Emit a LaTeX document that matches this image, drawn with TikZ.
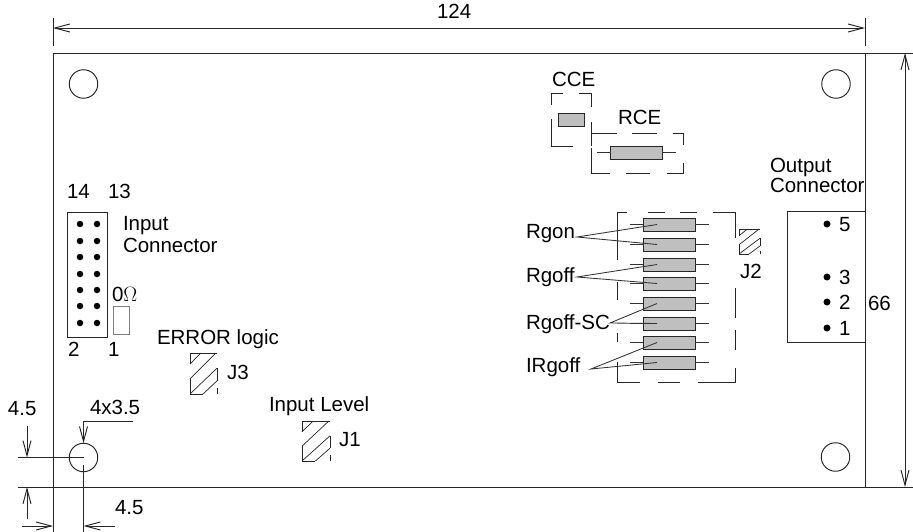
\documentclass[tikz,border=0pt]{standalone}
\usepackage{fontspec}
\setmainfont{Liberation Sans}
\usetikzlibrary{arrows.meta}
\tikzset{
  every node/.style={outer sep=0pt},
  ln/.style={line width=.95pt,draw=black!85},
  dim/.style={ln,{Straight Barb[length=15pt,width=8pt]}-{Straight Barb[length=15pt,width=8pt]}},
  dimend/.style={ln,-{Straight Barb[length=15pt,width=8pt]}},
  lbl/.style={inner sep=0pt,anchor=base west,font=\fontsize{20.5}{20.5}\selectfont,text=black},
  res/.style={draw=black!85,line width=.95pt,fill=black!25,minimum width=52pt,minimum height=13pt,inner sep=0pt,anchor=north west},
  hole/.style={circle,draw=black!85,line width=.95pt,minimum size=28.5pt,inner sep=0pt},
  pin/.style={circle,fill=black,minimum size=6.5pt,inner sep=0pt},
  frame/.style={rectangle,draw=black!85,line width=.95pt,inner sep=0pt,anchor=north west},
  gframe/.style={rectangle,draw=black!50,line width=1pt,inner sep=0pt,anchor=north west},
  lead/.style={line width=.85pt,draw=black!80},
  hatch/.style={line width=.7pt,draw=black!85},
}
\newcommand{\hatchbox}[4]{%
  \begin{scope}[shift={(#1,#2)},x=#3pt,y=-#4pt]
    \draw[hatch] (0,.27)--(.4,0) (0,.63)--(.96,0) (0,1)--(1,.37) (.48,1)--(1,.68);
    \draw[hatch] (0,.27)--(0,0)--(1,0) (0,.63)--(0,1)--(.48,1) (1,.37)--(1,.68) (1,.86)--(1,1);
  \end{scope}}
\begin{document}
\begin{tikzpicture}[x=1pt,y=-1pt]
\useasboundingbox (0,0) rectangle (913,532);
% board
\draw[ln] (53,53) rectangle (865,487);
\draw[ln] (53,46)--(53,18) (865,46)--(865,18);
\draw[ln] (865,53)--(913,53) (53,487)--(18,487) (865,487)--(913,487);
\draw[ln] (53,487)--(53,532);
\coordinate (tl) at (53,28); \coordinate (tr) at (865,28);
\draw[dim] (tl)--(tr);
\coordinate (rt) at (905,53); \coordinate (rb) at (905,487);
\draw[dim] (rt)--(rb);
\node[lbl] (n124) at (437,19) {124};
\node[lbl] (n66) at (868,310) {66};
% holes
\node[hole] (h1) at (83.5,84) {};
\node[hole] (h2) at (836,84) {};
\node[hole] (h3) at (835.5,457) {};
\node[hole] (h4) at (83.5,457.5) {};
% bottom-left dimensions
\coordinate (hc) at (83.5,457.5);
\coordinate (hl) at (18,457.5);
\draw[ln] (hl)--(hc);
\coordinate (hb) at (83.5,532);
\draw[ln] (83.5,465)--(hb);
\coordinate (a1) at (27,426); \coordinate (a1e) at (27,457.5);
\draw[dimend] (a1)--(a1e);
\coordinate (a2) at (27,519); \coordinate (a2e) at (27,487);
\draw[dimend] (a2)--(a2e);
\coordinate (a3) at (22,526); \coordinate (a3e) at (53,526);
\draw[dimend] (a3)--(a3e);
\coordinate (a4) at (115,526); \coordinate (a4e) at (83.5,526);
\draw[dimend] (a4)--(a4e);
\coordinate (l1) at (133,421);
\draw[dimend] (l1)--(83.5,421)--(h4.north);
\node[lbl] (d1) at (8,415) {4.5};
\node[lbl] (d2) at (90,414) {4x3.5};
\node[lbl] (d3) at (115,514) {4.5};
% input connector
\node[frame,minimum width=40pt,minimum height=125pt] (ic) at (67,212) {};
\foreach \y [count=\i] in {224,241,257,274,290,306,323}{
  \node[pin] (pa\i) at (80,\y) {};
  \node[pin] (pb\i) at (97,\y) {};
}
\node[gframe,minimum width=16pt,minimum height=28pt] (zero) at (113,306) {};
\node[lbl] at (67,198) {14};
\node[lbl] at (108,198) {13};
\node[lbl] at (123,230) {Input};
\node[lbl] at (123,252) {Connector};
\node[lbl] at (112,301) {0$\Omega$};
\node[lbl] at (68,356) {2};
\node[lbl] at (108,356) {1};
\node[lbl] at (157,344) {ERROR logic};
\node[lbl] at (227,379) {J3};
\node[lbl] at (269,411) {Input Level};
\node[lbl] at (339,446) {J1};
\hatchbox{190}{353}{27}{41}
\hatchbox{302}{421}{28}{40}
\hatchbox{739}{229}{21}{25}
% CCE / RCE
\node[lbl] at (552,87) {CCE};
\node[lbl] at (618,125) {RCE};
\node[res,minimum width=26pt] (cce) at (558,113) {};
\node[res] (rce) at (610.5,146) {};
\coordinate (rcel) at (597,152.5); \coordinate (rcer) at (676,152.5);
\draw[lead] (rcel)--(rce.west) (rce.east)--(rcer);
\draw[ln] (551,105)--(551,93)--(563,93) (579,93)--(591,93)--(591,107)
  (551,119)--(551,146)--(573,146) (591,122)--(591,146);
\draw[ln] (591,133)--(617,133) (632,133)--(657,133) (673,133)--(683,133)--(683,145)
  (591,148)--(591,173)--(610,173) (626,173)--(650,173) (667,173)--(683,173)--(683,163);
% resistor bank
\foreach \y [count=\i] in {218,238,258,277,297,317,336,356}{
  \node[res] (r\i) at (643,\y) {};
  \coordinate (rl\i) at (630,\y+6.5); \coordinate (rr\i) at (708.5,\y+6.5);
  \coordinate (tp\i) at (657,\y+6.5);
  \draw[lead] (rl\i)--(r\i.west) (r\i.east)--(rr\i);
}
\draw[ln] (617,260)--(617,212)--(627,212) (648,212)--(665,212) (680,212)--(697,212) (713,212)--(735,212)--(735,238)
  (617,282)--(617,300) (617,333)--(617,342) (617,362)--(617,382)--(640,382) (658,382)--(680,382) (698,382)--(735,382)--(735,368)
  (735,288)--(735,318) (735,330)--(735,350);
\node[lbl] (t1) at (526,238) {Rgon};
\node[lbl] (t2) at (526,282) {Rgoff};
\node[lbl] (t3) at (526,329) {Rgoff-SC};
\node[lbl] (t4) at (526,372) {IRgoff};
\coordinate (f1) at (577,237); \coordinate (f2) at (577,277);
\coordinate (f3) at (610,323); \coordinate (f4) at (591,369);
\draw[lead] (tp1)--(f1)--(tp2) (tp3)--(f2)--(tp4) (tp5)--(f3)--(tp6) (tp7)--(f4)--(tp8);
\node[lbl] at (740,278) {J2};
% output connector
\node[frame,minimum width=78pt,minimum height=131pt] (oc) at (787,211) {};
\node[pin,minimum size=7pt] (o5) at (827,224) {};
\node[pin,minimum size=7pt] (o3) at (827,277) {};
\node[pin,minimum size=7pt] (o2) at (827,302) {};
\node[pin,minimum size=7pt] (o1) at (827,328) {};
\node[lbl] at (839,231) {5};
\node[lbl] at (839,284) {3};
\node[lbl] at (839,309) {2};
\node[lbl] at (839,335) {1};
\node[lbl] at (770,172) {Output};
\node[lbl] at (770,193) {Connector};
\end{tikzpicture}
\end{document}
